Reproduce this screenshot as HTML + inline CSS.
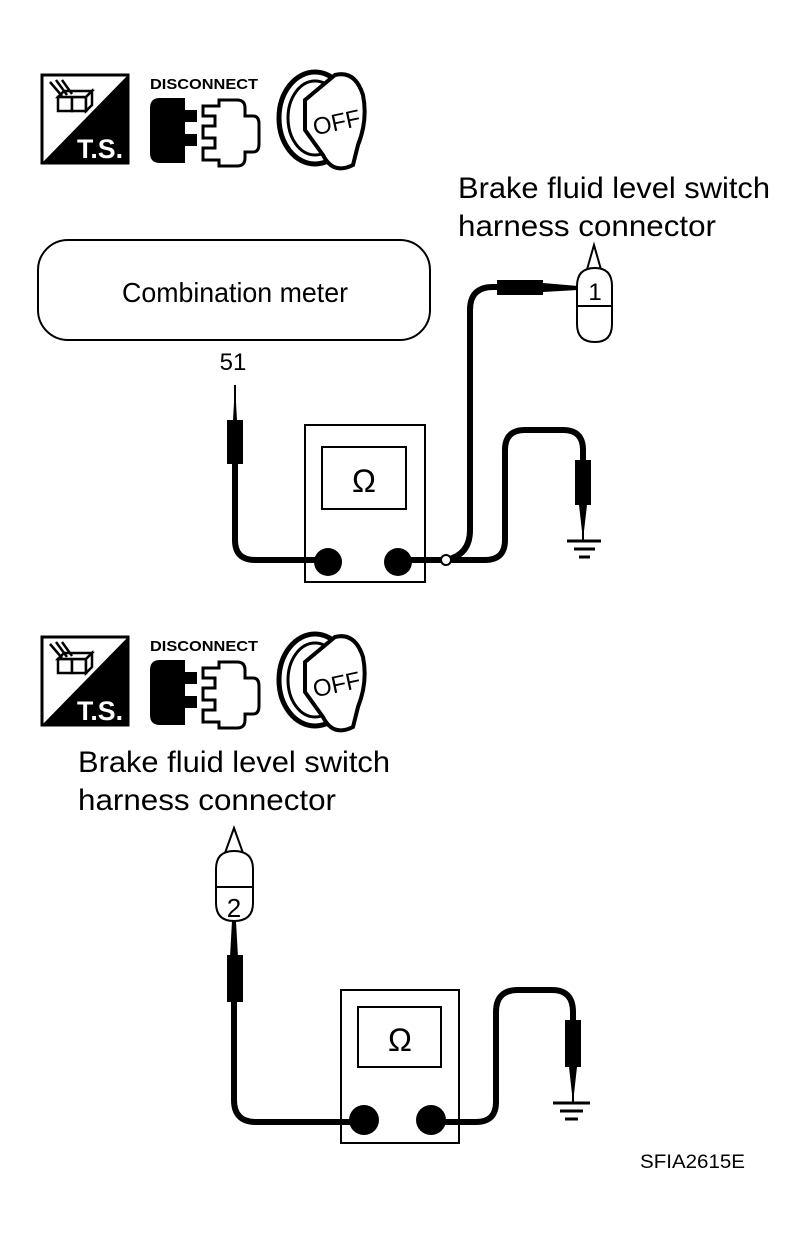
<!DOCTYPE html>
<html><head><meta charset="utf-8"><style>
html,body{margin:0;padding:0;background:#fff;}
svg{display:block;}
text{font-family:"Liberation Sans",sans-serif;fill:#000;}
</style></head><body>
<svg width="806" height="1237" viewBox="0 0 806 1237" xmlns="http://www.w3.org/2000/svg">
<defs>
<g id="icons">
  <rect x="42" y="75" width="86" height="88" fill="#fff" stroke="#000" stroke-width="3"/>
  <polygon points="128,75 128,163 42,163" fill="#000"/>
  <g stroke="#000" stroke-width="2.5" fill="#fff">
    <rect x="58" y="97" width="14" height="14"/><rect x="72" y="97" width="14" height="14"/>
    <path d="M58,97 l6,-6 h28 l-6,6z"/><path d="M86,97 l6,-6 v14 l-6,6z"/>
    <line x1="50" y1="82" x2="62" y2="96"/><line x1="56" y1="80" x2="67" y2="95"/><line x1="62" y1="80" x2="72" y2="94"/>
  </g>
  <text x="77" y="158" font-size="27" font-weight="bold" textLength="46" lengthAdjust="spacingAndGlyphs" style="fill:#fff">T.S.</text>
  <text x="150" y="89" font-size="15" font-weight="bold" textLength="108" lengthAdjust="spacingAndGlyphs">DISCONNECT</text>
  <path d="M160,98 h25 v12 h12 v12 h-12 v12 h12 v12 h-12 v17 h-25 q-10,0 -10,-10 v-45 q0,-10 10,-10z" fill="#000"/>
  <path d="M203,106 h16 v-6 h18 q8,0 8,8 v8 h8 q6,0 6,8 v20 q0,8 -6,8 h-8 v6 q0,8 -8,8 h-18 v-6 h-16 v-12 h12 v-10 h-12 v-12 h12 v-10 h-12z" fill="#fff" stroke="#000" stroke-width="3"/>
  <ellipse cx="315" cy="118" rx="36" ry="46" fill="#fff" stroke="#000" stroke-width="5"/>
  <ellipse cx="315" cy="118" rx="27" ry="37" fill="#fff" stroke="#000" stroke-width="3"/>
  <path d="M305,100 l30,-25 q20,-5 28,20 q5,25 -5,50 l-5,20 q-20,10 -30,-10 l-18,-25z" fill="#fff" stroke="#000" stroke-width="4"/>
  <text x="313" y="132" font-size="24" transform="rotate(-12 330 125)">OFF</text>
</g>
</defs>

<use href="#icons"/>
<use href="#icons" transform="translate(0,562)"/>

<text x="458" y="198" font-size="30" textLength="312" lengthAdjust="spacingAndGlyphs">Brake fluid level switch</text>
<text x="458" y="236" font-size="30" textLength="258" lengthAdjust="spacingAndGlyphs">harness connector</text>

<rect x="38" y="240" width="392" height="100" rx="30" fill="#fff" stroke="#000" stroke-width="2"/>
<text x="235" y="302" font-size="28" text-anchor="middle" textLength="226" lengthAdjust="spacingAndGlyphs">Combination meter</text>
<text x="233" y="370" font-size="24" text-anchor="middle">51</text>

<path d="M235,385 L233,420 H237 Z" fill="#000"/>
<line x1="235" y1="385" x2="235" y2="422" stroke="#000" stroke-width="2"/>
<rect x="227" y="420" width="16" height="44" fill="#000"/>

<rect x="305" y="425" width="120" height="157" fill="#fff" stroke="#000" stroke-width="2"/>
<rect x="322" y="447" width="84" height="62" fill="#fff" stroke="#000" stroke-width="2"/>
<text x="364" y="492" font-size="32" text-anchor="middle">Ω</text>
<path d="M235,462 V540 Q235,560 255,560 H320" fill="none" stroke="#000" stroke-width="6"/>
<circle cx="328" cy="562" r="14" fill="#000"/>
<circle cx="398" cy="562" r="14" fill="#000"/>

<path d="M398,560 H446" stroke="#000" stroke-width="6"/>
<path d="M446,560 Q470,555 470,530 V310 Q470,287 493,287 H500" fill="none" stroke="#000" stroke-width="6"/>
<rect x="497" y="280" width="46" height="15" fill="#000"/>
<path d="M543,283 L578,286 V290 L543,292 Z" fill="#000"/>
<path d="M446,560 H485 Q505,560 505,540 V450 Q505,430 525,430 H563 Q583,430 583,450 V462" fill="none" stroke="#000" stroke-width="6"/>
<rect x="575" y="460" width="16" height="45" fill="#000"/>
<path d="M579,505 L583,540 L587,505 Z" fill="#000"/>
<line x1="583" y1="505" x2="583" y2="541" stroke="#000" stroke-width="2"/>
<line x1="567" y1="541" x2="601" y2="541" stroke="#000" stroke-width="3"/>
<line x1="574" y1="549" x2="595" y2="549" stroke="#000" stroke-width="3"/>
<line x1="579" y1="557" x2="590" y2="557" stroke="#000" stroke-width="3"/>
<circle cx="446" cy="560" r="5" fill="#fff" stroke="#000" stroke-width="2"/>

<path d="M586,273 L594,245 L602,273" fill="none" stroke="#000" stroke-width="2"/>
<path d="M577,286 Q577,268 595,268 Q612,268 612,286 V324 Q612,342 595,342 Q577,342 577,324 Z" fill="#fff" stroke="#000" stroke-width="2"/>
<line x1="577" y1="306" x2="612" y2="306" stroke="#000" stroke-width="2"/>
<text x="595" y="300" font-size="24" text-anchor="middle">1</text>

<text x="78" y="772" font-size="30" textLength="312" lengthAdjust="spacingAndGlyphs">Brake fluid level switch</text>
<text x="78" y="810" font-size="30" textLength="258" lengthAdjust="spacingAndGlyphs">harness connector</text>

<path d="M225,853 L234,828 L243,853" fill="none" stroke="#000" stroke-width="2"/>
<path d="M216,869 Q216,851 234,851 Q253,851 253,869 V903 Q253,921 234,921 Q216,921 216,903 Z" fill="#fff" stroke="#000" stroke-width="2"/>
<line x1="216" y1="887" x2="253" y2="887" stroke="#000" stroke-width="2"/>
<text x="234" y="917" font-size="26" text-anchor="middle">2</text>
<path d="M232,921 L230,957 H238 L236,921 Z" fill="#000"/>
<rect x="227" y="955" width="16" height="47" fill="#000"/>

<rect x="341" y="990" width="118" height="153" fill="#fff" stroke="#000" stroke-width="2"/>
<rect x="358" y="1007" width="83" height="60" fill="#fff" stroke="#000" stroke-width="2"/>
<text x="400" y="1051" font-size="32" text-anchor="middle">Ω</text>
<path d="M234,1000 V1100 Q234,1122 256,1122 H355" fill="none" stroke="#000" stroke-width="6"/>
<circle cx="364" cy="1120" r="15" fill="#000"/>
<circle cx="431" cy="1120" r="15" fill="#000"/>

<path d="M431,1122 H476 Q496,1122 496,1102 V1012 Q496,990 518,990 H552 Q573,990 573,1012 V1022" fill="none" stroke="#000" stroke-width="6"/>
<rect x="565" y="1020" width="16" height="47" fill="#000"/>
<path d="M569,1067 L573,1103 L577,1067 Z" fill="#000"/>
<line x1="573" y1="1067" x2="573" y2="1103" stroke="#000" stroke-width="2"/>
<line x1="553" y1="1103" x2="590" y2="1103" stroke="#000" stroke-width="3"/>
<line x1="560" y1="1111" x2="583" y2="1111" stroke="#000" stroke-width="3"/>
<line x1="565" y1="1119" x2="578" y2="1119" stroke="#000" stroke-width="3"/>

<text x="640" y="1168" font-size="19" textLength="105" lengthAdjust="spacingAndGlyphs">SFIA2615E</text>
</svg>
</body></html>
